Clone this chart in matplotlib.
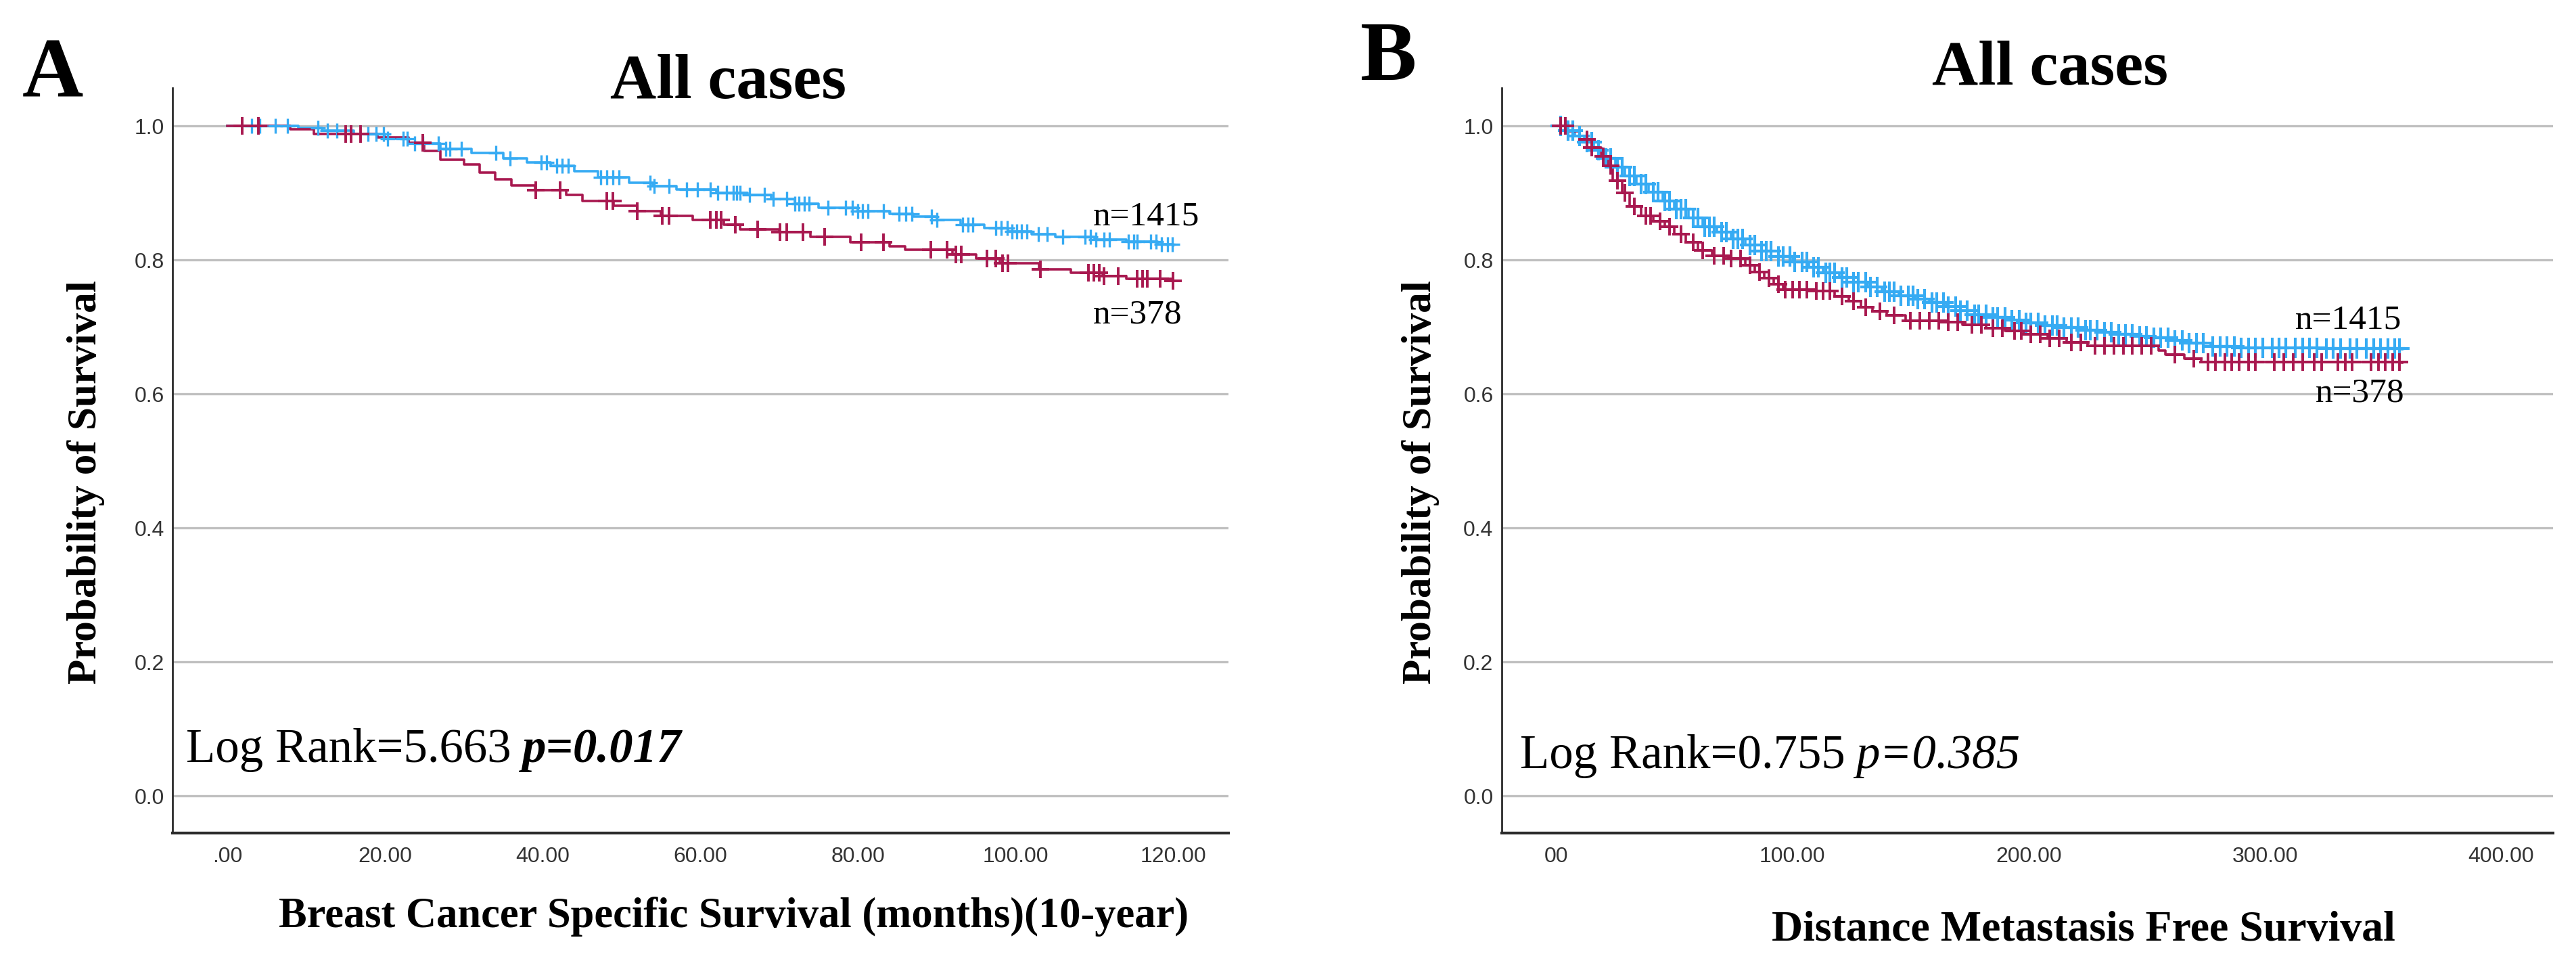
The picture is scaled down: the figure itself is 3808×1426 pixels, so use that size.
import numpy as np
import matplotlib
matplotlib.use('Agg')
import matplotlib.pyplot as plt

SERIF = ['Liberation Serif', 'DejaVu Serif']
NARROW = ['Liberation Sans Narrow', 'Liberation Sans', 'DejaVu Sans']
BLUE = '#36abf3'
RED = '#a8184f'

# ---- panel A: breast cancer specific survival (months, 10-year) ----
a_blue_t = [0, 9, 12, 16, 20, 23, 27, 31, 35, 38, 41, 44, 47, 51, 54, 57, 62, 66, 69,
            72, 75, 80, 84, 87, 90, 93, 96, 99, 102, 105, 110, 114, 118, 120]
a_blue_s = [1.0, 0.997, 0.993, 0.988, 0.981, 0.974, 0.966, 0.960, 0.952, 0.946, 0.940,
            0.932, 0.923, 0.915, 0.910, 0.905, 0.900, 0.897, 0.891, 0.884, 0.878, 0.873,
            0.869, 0.865, 0.860, 0.853, 0.848, 0.842, 0.838, 0.834, 0.830, 0.827, 0.823, 0.821]
a_blue_cens = [3.1, 4.1, 6.1, 7.6, 11.5, 12.7, 13.9, 17.8, 18.9, 19.8, 20.3, 22.3, 22.8,
               23.8, 24.8, 26.8, 27.7, 28.2, 29.7, 34.1, 35.9, 39.8, 40.5, 41.8, 42.5, 43.2,
               47.4, 48.1, 48.9, 49.7, 53.6, 54.1, 56.0, 58.3, 59.6, 61.3, 62.2, 63.3, 64.2,
               64.6, 65.0, 66.2, 68.1, 69.2, 71.0, 72.0, 72.5, 73.2, 73.8, 76.2, 78.4, 79.3,
               80.0, 80.6, 81.3, 83.2, 85.2, 86.1, 86.8, 89.3, 90.0, 93.3, 94.0, 94.6, 97.5,
               98.2, 98.9, 99.5, 100.1, 100.7, 101.4, 102.9, 104.0, 106.0, 108.8, 109.5,
               110.2, 111.2, 111.9, 114.3, 115.0, 115.4, 117.1, 117.8, 118.5, 119.3, 119.9]

a_red_t = [0, 8, 11, 19, 23, 25, 27, 30, 32, 34, 36, 39, 43, 45, 49, 52, 55, 59, 63, 65,
           70, 74, 79, 84, 86, 92, 95, 98, 103, 107, 111, 114, 120]
a_red_s = [1.0, 0.995, 0.988, 0.983, 0.975, 0.963, 0.950, 0.943, 0.930, 0.920, 0.911,
           0.904, 0.897, 0.888, 0.881, 0.873, 0.866, 0.860, 0.853, 0.846, 0.841, 0.834,
           0.826, 0.820, 0.815, 0.808, 0.802, 0.795, 0.786, 0.781, 0.776, 0.772, 0.769]
a_red_cens = [1.9, 3.9, 15.0, 15.7, 16.9, 24.8, 39.1, 42.2, 48.1, 48.9, 52.0, 55.2, 56.0,
              61.3, 62.0, 62.6, 64.4, 67.3, 70.1, 71.0, 73.0, 75.8, 80.4, 83.2, 89.2, 91.3,
              92.4, 93.1, 96.4, 97.5, 98.3, 99.0, 103.1, 109.2, 109.9, 110.6, 111.2, 113.0,
              115.4, 116.1, 116.7, 118.3, 120.0]

a_xticks = [0, 20, 40, 60, 80, 100, 120]
a_xlabels = ['.00', '20.00', '40.00', '60.00', '80.00', '100.00', '120.00']

# ---- panel B: distance metastasis free survival ----
b_blue_t = [0, 4, 8, 12, 16, 20, 25, 29, 34, 39, 45, 50, 56, 62, 68, 74, 80, 87, 94, 100,
            107, 113, 120, 126, 132, 138, 145, 152, 158, 165, 171, 177, 184, 191, 198, 206,
            214, 222, 230, 238, 246, 253, 260, 268, 277, 290, 326, 358]
b_blue_s = [1.0, 0.993, 0.985, 0.976, 0.964, 0.952, 0.938, 0.925, 0.913, 0.901, 0.888,
            0.876, 0.863, 0.850, 0.841, 0.831, 0.822, 0.813, 0.805, 0.797, 0.789, 0.781,
            0.774, 0.767, 0.760, 0.753, 0.747, 0.741, 0.736, 0.730, 0.724, 0.718, 0.714,
            0.710, 0.706, 0.702, 0.699, 0.695, 0.692, 0.689, 0.686, 0.684, 0.680, 0.676,
            0.671, 0.669, 0.668, 0.667]
b_blue_cens = [2, 5, 7, 10, 13, 15, 18, 21, 23, 26, 28, 31, 33, 36, 38, 41, 43, 46, 48, 51,
               53, 55, 58, 60, 63, 65, 67, 70, 72, 75, 77, 79, 82, 84, 87, 89, 91, 94, 96,
               99, 101, 104, 106, 109, 111, 114, 116, 118, 121, 123, 126, 128, 131, 133,
               136, 139, 141, 143, 146, 149, 151, 153, 156, 159, 161, 164, 166, 169, 171,
               174, 177, 179, 182, 185, 187, 190, 193, 196, 199, 201, 204, 207, 210, 212,
               215, 218, 221, 224, 226, 229, 232, 235, 238, 241, 244, 247, 250, 253, 256,
               259, 262, 265, 268, 271, 274, 278, 281, 284, 287, 290, 293, 296, 299, 303,
               306, 309, 313, 316, 319, 322, 326, 329, 332, 336, 339, 343, 346, 349, 352,
               355, 357]

b_red_t = [0, 5, 10, 15, 19, 22, 24, 28, 31, 36, 41, 46, 50, 55, 60, 66, 73, 80, 84, 88,
           92, 96, 110, 118, 124, 129, 134, 140, 148, 165, 172, 182, 190, 198, 208, 216,
           225, 255, 258, 266, 273, 358]
b_red_s = [1.0, 0.992, 0.980, 0.968, 0.955, 0.940, 0.918, 0.900, 0.880, 0.866, 0.858,
           0.850, 0.838, 0.826, 0.814, 0.806, 0.802, 0.792, 0.782, 0.773, 0.764, 0.756,
           0.754, 0.746, 0.738, 0.729, 0.723, 0.717, 0.709, 0.707, 0.703, 0.698, 0.694,
           0.689, 0.683, 0.677, 0.672, 0.665, 0.659, 0.653, 0.648, 0.647]
b_red_cens = [2, 4, 13, 15, 20, 23, 26, 29, 33, 38, 40, 44, 48, 53, 58, 62, 67, 71, 74,
              78, 82, 86, 90, 94, 97, 100, 103, 106, 110, 113, 116, 121, 126, 131, 137,
              143, 150, 154, 158, 162, 166, 170, 176, 180, 185, 189, 194, 197, 201, 205,
              209, 213, 218, 222, 228, 232, 236, 240, 244, 248, 252, 262, 270, 276, 279,
              283, 286, 289, 293, 296, 304, 308, 312, 316, 321, 324, 331, 334, 337, 345,
              348, 351, 354, 357]

b_xticks = [0, 100, 200, 300, 400]
b_xlabels = ['00', '100.00', '200.00', '300.00', '400.00']

yticks = [0.0, 0.2, 0.4, 0.6, 0.8, 1.0]
ylabels = ['0.0', '0.2', '0.4', '0.6', '0.8', '1.0']


def km(ax, t, s, cens, color, ms, mew, lw):
    t = np.asarray(t, dtype=float)
    s = np.asarray(s, dtype=float)
    ax.plot(t, s, drawstyle='steps-post', color=color, lw=lw, zorder=3)
    c = np.asarray(cens, dtype=float)
    idx = np.searchsorted(t, c, side='right') - 1
    ax.plot(c, s[idx], ls='none', marker='+', ms=ms, mew=mew, color=color, zorder=4)


def style(ax, xlim, xt, xl):
    ax.set_xlim(*xlim)
    ax.set_ylim(-0.0556, 1.0566)
    ax.set_yticks(yticks)
    ax.set_yticklabels(ylabels, family=NARROW, fontsize=23, color='#333333')
    ax.set_xticks(xt)
    ax.set_xticklabels(xl, family=NARROW, fontsize=23, color='#333333')
    ax.tick_params(axis='y', length=0, pad=9)
    ax.tick_params(axis='x', length=0, pad=14)
    ax.yaxis.grid(True, color='#c0c0c0', lw=2.4)
    ax.set_axisbelow(True)
    for sp in ['top', 'right']:
        ax.spines[sp].set_visible(False)
    ax.spines['left'].set_color('#2b2b2b')
    ax.spines['left'].set_linewidth(2.0)
    ax.spines['bottom'].set_color('#2b2b2b')
    ax.spines['bottom'].set_linewidth(3.0)


fig = plt.figure(figsize=(38.08, 14.26), dpi=100)
axA = fig.add_axes([0.0670, 0.1367, 0.4099, 0.7721])
axB = fig.add_axes([0.5830, 0.1367, 0.4081, 0.7721])

km(axA, a_blue_t, a_blue_s, a_blue_cens, BLUE, 16, 2.4, 2.6)
km(axA, a_red_t, a_red_s, a_red_cens, RED, 19, 2.8, 2.6)
style(axA, (-6.95, 127.0), a_xticks, a_xlabels)

km(axB, b_blue_t, b_blue_s, b_blue_cens, BLUE, 21, 3.0, 2.6)
km(axB, b_red_t, b_red_s, b_red_cens, RED, 19, 2.8, 2.6)
style(axB, (-23, 422), b_xticks, b_xlabels)

# n labels
axA.text(109.8, 0.8525, 'n=1415', family=SERIF, fontsize=37, ha='left', va='baseline')
axA.text(109.8, 0.706, 'n=378', family=SERIF, fontsize=37, ha='left', va='baseline')
axB.text(358, 0.698, 'n=1415', family=SERIF, fontsize=37, ha='right', va='baseline')
axB.text(359, 0.588, 'n=378', family=SERIF, fontsize=37, ha='right', va='baseline')

# log rank annotations
t1 = axA.text(0.0128, 0.0817, 'Log Rank=5.663', transform=axA.transAxes,
              family=SERIF, fontsize=51, ha='left', va='bottom')
axA.annotate('p=0.017', xy=(1, 0), xycoords=t1, xytext=(11, 0),
             textcoords='offset points', family=SERIF, fontsize=51,
             fontweight='bold', fontstyle='italic', ha='left', va='bottom')
t2 = axB.text(0.0174, 0.0736, 'Log Rank=0.755', transform=axB.transAxes,
              family=SERIF, fontsize=51, ha='left', va='bottom')
axB.annotate('p=0.385', xy=(1, 0), xycoords=t2, xytext=(11, 0),
             textcoords='offset points', family=SERIF, fontsize=51,
             fontstyle='italic', ha='left', va='bottom')

# titles, panel letters, axis labels
fig.text(0.2826, 0.8983, 'All cases', ha='center', va='baseline', family=SERIF,
         fontsize=68, fontweight='bold')
fig.text(0.7957, 0.9123, 'All cases', ha='center', va='baseline', family=SERIF,
         fontsize=68, fontweight='bold')
fig.text(0.0087, 0.9004, 'A', ha='left', va='baseline', family=SERIF,
         fontsize=90, fontweight='bold')
fig.text(0.5281, 0.9173, 'B', ha='left', va='baseline', family=SERIF,
         fontsize=90, fontweight='bold')
fig.text(0.0334, 0.50, 'Probability of Survival', rotation=90, ha='center', va='center',
         family=SERIF, fontsize=44, fontweight='bold')
fig.text(0.5515, 0.50, 'Probability of Survival', rotation=90, ha='center', va='center',
         family=SERIF, fontsize=44, fontweight='bold')
fig.text(0.2849, 0.0393, 'Breast Cancer Specific Survival (months)(10-year)', ha='center',
         va='baseline', family=SERIF, fontsize=45, fontweight='bold')
fig.text(0.8088, 0.0252, 'Distance Metastasis Free Survival', ha='center',
         va='baseline', family=SERIF, fontsize=46, fontweight='bold')

fig.savefig('out.png', dpi=100, facecolor='white')
